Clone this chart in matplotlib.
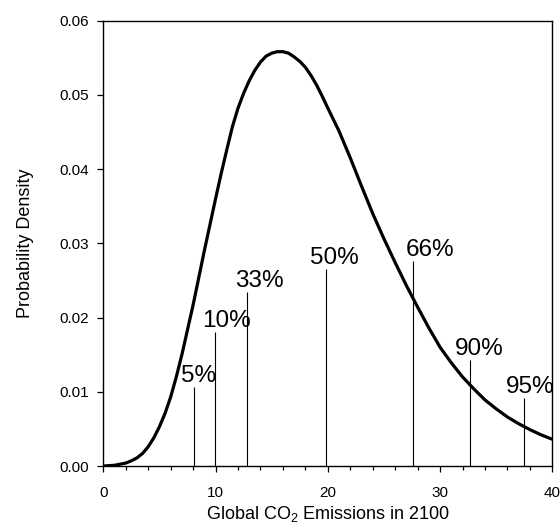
import matplotlib
matplotlib.use("Agg")
import matplotlib.pyplot as plt
from matplotlib.ticker import MultipleLocator

plt.rcParams['font.family'] = ['Liberation Sans', 'DejaVu Sans']
plt.rcParams['mathtext.fontset'] = 'custom'
plt.rcParams['mathtext.rm'] = 'Liberation Sans'

# probability density curve
emissions = [0, 1, 2, 2.5, 3, 3.5, 4, 4.5, 5, 5.5, 6, 6.5, 7, 8, 9, 9.5, 10,
             10.5, 11, 11.5, 12, 12.5, 13, 13.5, 14, 14.5, 15, 15.5, 16, 16.5,
             17, 17.5, 18, 18.5, 19, 19.5, 20, 21, 22, 23, 24, 25, 26, 27, 28,
             29, 30, 31, 32, 33, 34, 35, 36, 37, 38, 39, 40]
density = [0.0000, 0.0001, 0.0004, 0.0007, 0.0011, 0.0017, 0.0026, 0.0038,
           0.0053, 0.0071, 0.0093, 0.0120, 0.0150,
           0.0217, 0.0290, 0.0325, 0.0360, 0.0394, 0.0426, 0.0457, 0.0482,
           0.0502, 0.0519, 0.0533, 0.0544, 0.0552, 0.0556, 0.0558, 0.0558,
           0.0556, 0.0551, 0.0545, 0.0537, 0.0526, 0.0513, 0.0498, 0.0482,
           0.0451, 0.0415, 0.0377, 0.0340, 0.0306, 0.0274, 0.0243, 0.0214,
           0.0186, 0.0160, 0.0139, 0.0120, 0.0104, 0.0089, 0.0077, 0.0066,
           0.0057, 0.0049, 0.0042, 0.0036]

# percentile markers
pct_labels = ['5%', '10%', '33%', '50%', '66%', '90%', '95%']
pct_x = [8.06, 9.93, 12.78, 19.85, 27.6, 32.66, 37.44]
pct_top = [0.0107, 0.0181, 0.0235, 0.0265, 0.0276, 0.0143, 0.0091]
label_x = [8.48, 10.96, 13.9, 20.6, 29.14, 33.5, 38.05]

fig = plt.figure(figsize=(5.6, 5.27), dpi=100)
ax = fig.add_axes([0.1845, 0.1157, 0.8018, 0.8454])

ax.plot(emissions, density, color='black', lw=2.3, solid_capstyle='butt', zorder=3)
ax.vlines(pct_x, 0, pct_top, color='black', lw=0.8, zorder=2)
for lab, lx, top in zip(pct_labels, label_x, pct_top):
    ax.text(lx, top, lab, ha='center', va='bottom', fontsize=17.5)

ax.set_xlim(0, 40)
ax.set_ylim(0, 0.06)
ax.xaxis.set_major_locator(MultipleLocator(10))
ax.xaxis.set_minor_locator(MultipleLocator(2))
ax.yaxis.set_major_locator(MultipleLocator(0.01))
ax.yaxis.set_major_formatter(matplotlib.ticker.FormatStrFormatter('%.2f'))
ax.tick_params(axis='both', which='major', direction='out', length=4.5,
               width=0.9, labelsize=11)
ax.tick_params(axis='x', which='major', pad=10)
ax.tick_params(axis='y', which='major', pad=6)
ax.tick_params(axis='x', which='minor', direction='out', length=3, width=0.9)
for sp in ax.spines.values():
    sp.set_linewidth(1.0)

ax.set_xlabel('Global CO$_2$ Emissions in 2100', fontsize=13)
ax.xaxis.set_label_coords(0.5, -0.085)
ax.set_ylabel('Probability Density', fontsize=13)
ax.yaxis.set_label_coords(-0.155, 0.5)

fig.savefig('out.png', dpi=100)
